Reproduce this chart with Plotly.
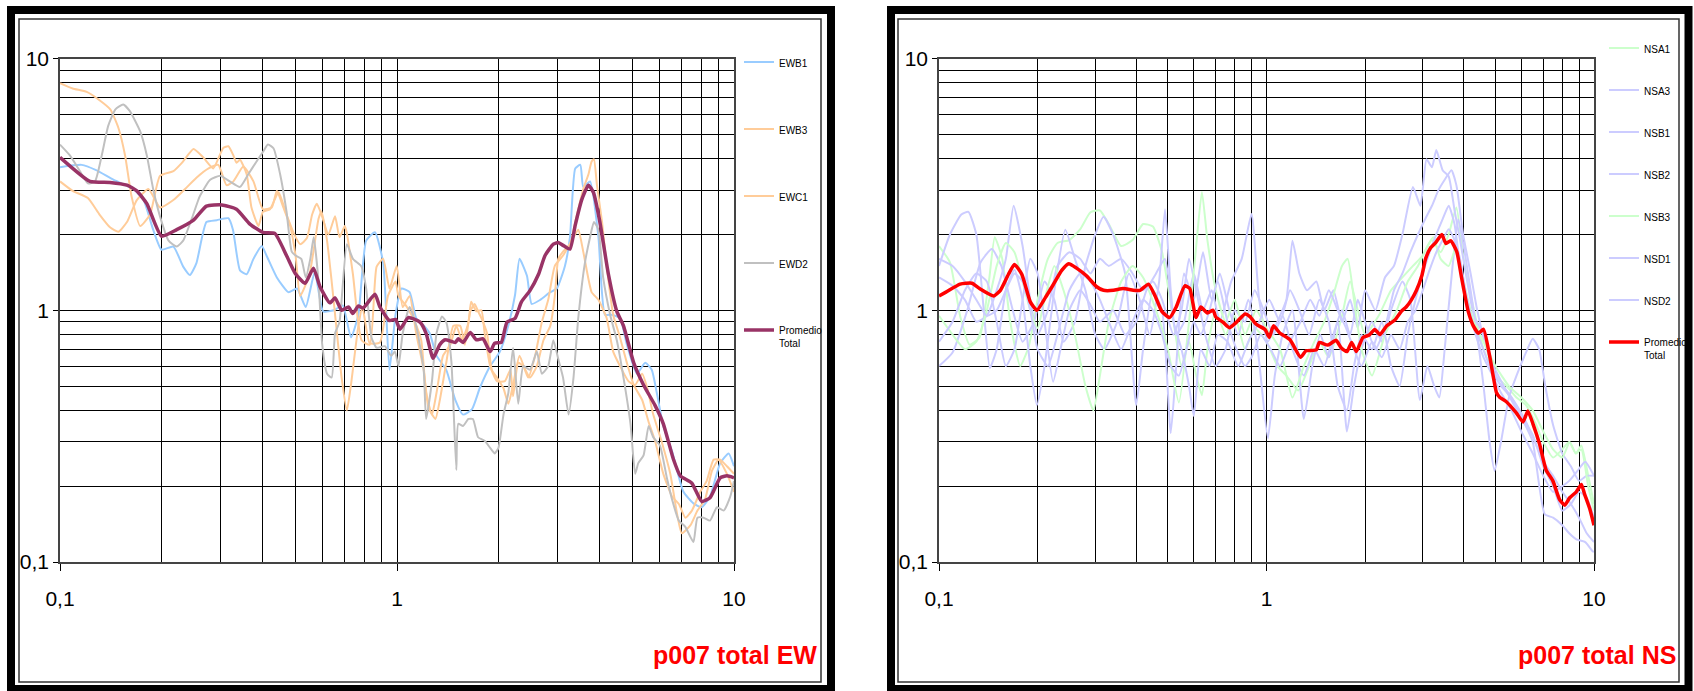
import plotly.graph_objects as go

W, H = 1694, 691

# ---------------- EW components: (frequency Hz, spectral ratio) ----------------
EWB1 = [(0.1, 3.7), (0.116, 3.78), (0.128, 3.6), (0.144, 3.3), (0.165, 3.03), (0.177, 2.74),
        (0.189, 2.09), (0.2, 1.74), (0.217, 1.79), (0.232, 1.49), (0.243, 1.38), (0.254, 1.54),
        (0.272, 2.24), (0.292, 2.28), (0.316, 2.32), (0.326, 2.09), (0.342, 1.44), (0.358, 1.39),
        (0.375, 1.6), (0.397, 1.8), (0.41, 1.65), (0.44, 1.35), (0.476, 1.18), (0.505, 1.22),
        (0.536, 1.03), (0.57, 1.42), (0.604, 0.99), (0.65, 1.0), (0.69, 1.045), (0.73, 0.78),
        (0.768, 0.96), (0.81, 1.89), (0.86, 2.04), (0.91, 1.54), (0.95, 0.58), (0.99, 0.96),
        (1.03, 1.22), (1.09, 1.18), (1.14, 0.93), (1.2, 0.87), (1.25, 0.81), (1.31, 0.66),
        (1.4, 0.58), (1.49, 0.44), (1.57, 0.385), (1.67, 0.405), (1.76, 0.49), (1.89, 0.6),
        (2.02, 0.685), (2.14, 0.87), (2.24, 1.15), (2.31, 1.6), (2.43, 1.37), (2.51, 1.06),
        (2.66, 1.1), (2.85, 1.18), (2.98, 1.22), (3.15, 1.5), (3.26, 1.95), (3.38, 3.66),
        (3.5, 3.78), (3.57, 3.09), (3.74, 3.25), (3.96, 1.95), (4.14, 0.96), (4.33, 0.96),
        (4.59, 0.93), (4.81, 0.73), (5.15, 0.56), (5.45, 0.618), (5.7, 0.58), (5.9, 0.47),
        (6.17, 0.347), (6.55, 0.275), (7.08, 0.19), (7.58, 0.171), (8.02, 0.165), (8.49, 0.182),
        (9.1, 0.247), (9.64, 0.27), (10.0, 0.24)]

EWB3 = [(0.1, 7.98), (0.109, 7.6), (0.12, 7.37), (0.131, 6.83), (0.141, 6.28), (0.149, 5.31),
        (0.156, 4.12), (0.163, 2.84), (0.173, 2.16), (0.185, 2.4), (0.198, 3.42), (0.217, 3.57),
        (0.23, 3.85), (0.249, 4.37), (0.266, 4.05), (0.285, 3.66), (0.305, 4.41), (0.316, 4.48),
        (0.327, 4.12), (0.334, 3.85), (0.342, 3.96), (0.358, 3.47), (0.37, 2.56), (0.388, 2.16),
        (0.4, 2.46), (0.42, 2.52), (0.445, 2.94), (0.47, 2.4), (0.494, 2.02), (0.516, 1.83),
        (0.54, 1.93), (0.56, 2.4), (0.578, 2.65), (0.597, 2.4), (0.626, 2.0), (0.655, 2.36),
        (0.675, 1.95), (0.7, 2.16), (0.71, 2.02), (0.74, 1.39), (0.785, 0.76), (0.83, 0.73),
        (0.87, 1.49), (0.91, 1.6), (0.95, 1.22), (0.998, 1.5), (1.04, 1.03), (1.09, 1.14),
        (1.14, 0.81), (1.2, 0.58), (1.24, 0.41), (1.3, 0.37), (1.34, 0.44), (1.4, 0.618),
        (1.47, 0.867), (1.54, 0.867), (1.59, 0.73), (1.65, 0.99), (1.7, 1.06), (1.74, 0.99),
        (1.78, 0.93), (1.85, 0.81), (1.91, 0.58), (1.98, 0.54), (2.07, 0.49), (2.14, 0.425),
        (2.21, 0.505), (2.31, 0.66), (2.45, 0.54), (2.57, 0.66), (2.69, 0.897), (2.81, 1.1),
        (2.94, 1.5), (3.11, 1.65), (3.3, 1.89), (3.45, 2.09), (3.57, 1.71), (3.78, 1.18),
        (3.96, 1.1), (4.19, 0.93), (4.38, 0.685), (4.59, 0.6), (4.86, 0.523), (5.09, 0.505),
        (5.34, 0.56), (5.53, 0.49), (5.76, 0.385), (6.09, 0.303), (6.47, 0.224), (6.78, 0.155),
        (7.0, 0.13), (7.43, 0.14), (7.79, 0.16), (8.2, 0.177), (8.6, 0.23), (9.0, 0.255),
        (9.53, 0.224), (10.0, 0.19)]

EWC1 = [(0.1, 3.25), (0.109, 2.98), (0.121, 2.79), (0.131, 2.4), (0.141, 2.13), (0.149, 2.05),
        (0.158, 2.24), (0.169, 2.74), (0.183, 3.03), (0.198, 2.56), (0.217, 2.74), (0.235, 3.03),
        (0.254, 3.36), (0.276, 3.66), (0.295, 3.78), (0.312, 3.14), (0.327, 3.25), (0.35, 3.72),
        (0.375, 3.25), (0.4, 2.52), (0.425, 2.56), (0.44, 2.98), (0.46, 2.56), (0.482, 2.16),
        (0.5, 1.65), (0.516, 1.14), (0.55, 1.39), (0.565, 1.71), (0.585, 2.31), (0.597, 2.47),
        (0.62, 1.89), (0.64, 1.3), (0.66, 0.87), (0.685, 0.54), (0.71, 0.4), (0.73, 0.505),
        (0.768, 0.867), (0.79, 1.03), (0.83, 0.74), (0.89, 0.745), (0.94, 1.14), (0.99, 1.3),
        (1.01, 1.14), (1.07, 1.03), (1.13, 0.897), (1.18, 0.76), (1.22, 0.47), (1.27, 0.385),
        (1.31, 0.47), (1.37, 0.66), (1.44, 0.73), (1.5, 0.867), (1.56, 0.76), (1.63, 0.897),
        (1.66, 1.08), (1.72, 0.99), (1.78, 1.0), (1.82, 0.81), (1.89, 0.6), (1.98, 0.523),
        (2.09, 0.523), (2.17, 0.58), (2.21, 0.455), (2.29, 0.618), (2.37, 0.6), (2.48, 0.54),
        (2.6, 0.6), (2.72, 0.76), (2.85, 0.867), (2.94, 1.14), (3.01, 1.6), (3.11, 1.71),
        (3.26, 1.83), (3.42, 2.4), (3.57, 3.03), (3.7, 3.47), (3.78, 3.9), (3.84, 3.98),
        (3.92, 3.14), (4.06, 2.24), (4.19, 1.5), (4.38, 0.96), (4.59, 0.78), (4.81, 0.618),
        (5.04, 0.505), (5.34, 0.44), (5.58, 0.36), (5.83, 0.303), (6.17, 0.224), (6.55, 0.182),
        (6.86, 0.17), (7.17, 0.15), (7.5, 0.16), (7.94, 0.19), (8.3, 0.21), (8.7, 0.255),
        (9.1, 0.255), (9.53, 0.24), (10.0, 0.224)]

EWD2 = [(0.1, 4.55), (0.107, 4.12), (0.115, 3.54), (0.121, 3.19), (0.127, 3.25), (0.133, 4.12),
        (0.139, 5.4), (0.146, 6.28), (0.154, 6.56), (0.161, 6.19), (0.173, 5.13), (0.181, 4.12),
        (0.189, 3.03), (0.198, 2.36), (0.21, 1.89), (0.222, 1.79), (0.232, 1.89), (0.246, 2.31),
        (0.26, 2.84), (0.279, 3.3), (0.299, 3.42), (0.319, 3.25), (0.342, 3.09), (0.362, 3.47),
        (0.383, 3.9), (0.4, 4.25), (0.414, 4.55), (0.43, 4.4), (0.45, 3.47), (0.47, 2.47),
        (0.487, 1.71), (0.5, 1.65), (0.52, 1.6), (0.536, 1.35), (0.553, 1.6), (0.566, 1.95),
        (0.585, 1.3), (0.6, 0.73), (0.62, 0.56), (0.64, 0.54), (0.655, 0.81), (0.675, 0.897),
        (0.71, 1.83), (0.74, 1.6), (0.785, 1.49), (0.81, 1.22), (0.84, 0.78), (0.87, 0.71),
        (0.92, 0.72), (0.96, 0.66), (0.986, 0.685), (1.01, 0.6), (1.04, 0.81), (1.09, 1.03),
        (1.14, 0.867), (1.2, 0.58), (1.22, 0.37), (1.27, 0.523), (1.31, 0.81), (1.36, 0.944),
        (1.4, 0.897), (1.45, 0.625), (1.5, 0.232), (1.52, 0.354), (1.57, 0.347), (1.63, 0.37),
        (1.68, 0.37), (1.74, 0.313), (1.82, 0.303), (1.89, 0.284), (1.95, 0.27), (2.0, 0.284),
        (2.07, 0.385), (2.14, 0.47), (2.21, 0.71), (2.29, 0.425), (2.37, 0.6), (2.48, 0.58),
        (2.6, 0.685), (2.69, 0.56), (2.81, 0.6), (2.91, 0.76), (3.01, 0.64), (3.11, 0.54),
        (3.23, 0.385), (3.34, 0.54), (3.45, 0.93), (3.61, 1.54), (3.74, 1.95), (3.84, 2.24),
        (3.96, 2.09), (4.09, 1.35), (4.29, 0.96), (4.49, 0.76), (4.7, 0.54), (4.93, 0.354),
        (5.09, 0.224), (5.2, 0.247), (5.39, 0.265), (5.58, 0.347), (5.76, 0.313), (6.03, 0.29),
        (6.32, 0.216), (6.55, 0.177), (6.86, 0.146), (7.17, 0.138), (7.58, 0.12), (7.79, 0.15),
        (8.12, 0.15), (8.49, 0.146), (8.9, 0.165), (9.32, 0.16), (9.75, 0.182), (10.0, 0.21)]

EW_MEAN = [(0.1, 4.05), (0.1227, 3.25), (0.1407, 3.22), (0.158, 3.14), (0.169, 2.98), (0.181, 2.65),
           (0.2, 1.97), (0.222, 2.09), (0.249, 2.28), (0.272, 2.59), (0.302, 2.62), (0.334, 2.52),
           (0.366, 2.2), (0.4, 2.04), (0.434, 2.02), (0.47, 1.65), (0.499, 1.4), (0.534, 1.28),
           (0.565, 1.47), (0.591, 1.24), (0.632, 1.07), (0.655, 1.12), (0.685, 1.0), (0.718, 1.03),
           (0.739, 0.97), (0.768, 1.04), (0.793, 1.02), (0.86, 1.157), (0.89, 1.03), (0.95, 0.91),
           (0.99, 0.92), (1.02, 0.84), (1.08, 0.935), (1.17, 0.897), (1.22, 0.81), (1.28, 0.644),
           (1.34, 0.73), (1.39, 0.763), (1.49, 0.745), (1.52, 0.77), (1.57, 0.745), (1.65, 0.816),
           (1.72, 0.763), (1.8, 0.77), (1.89, 0.685), (1.95, 0.74), (2.04, 0.745), (2.12, 0.897),
           (2.24, 0.928), (2.34, 1.08), (2.48, 1.197), (2.63, 1.39), (2.75, 1.65), (2.91, 1.83),
           (3.01, 1.86), (3.11, 1.81), (3.26, 1.75), (3.38, 2.18), (3.53, 2.74), (3.7, 3.14),
           (3.83, 2.93), (4.0, 2.24), (4.24, 1.39), (4.49, 0.99), (4.7, 0.867), (5.04, 0.618),
           (5.39, 0.505), (5.83, 0.419), (6.17, 0.354), (6.61, 0.256), (6.93, 0.22), (7.49, 0.206),
           (8.02, 0.174), (8.49, 0.18), (9.1, 0.216), (9.53, 0.22), (10.0, 0.216)]

# ---------------- NS components ----------------
NSA1 = [(0.1, 1.8), (0.108, 1.55), (0.116, 0.95), (0.124, 0.73), (0.133, 0.78), (0.142, 1.3),
        (0.148, 1.95), (0.156, 1.6), (0.165, 0.9), (0.177, 0.6), (0.188, 0.72), (0.2, 1.1),
        (0.215, 1.6), (0.23, 1.85), (0.25, 1.9), (0.27, 2.1), (0.29, 2.45), (0.31, 2.49),
        (0.33, 2.2), (0.36, 1.8), (0.39, 1.9), (0.42, 2.2), (0.45, 2.15), (0.48, 1.7),
        (0.52, 0.9), (0.55, 0.6), (0.58, 0.75), (0.61, 0.55), (0.635, 0.46), (0.66, 0.7),
        (0.7, 1.0), (0.75, 0.8), (0.8, 0.95), (0.86, 0.7), (0.92, 0.85), (1.0, 0.75),
        (1.08, 0.6), (1.15, 0.55), (1.25, 0.48), (1.35, 0.6), (1.45, 0.75), (1.55, 0.65),
        (1.7, 0.95), (1.8, 1.3), (1.9, 1.0), (2.0, 0.8), (2.2, 0.95), (2.4, 1.2), (2.6, 1.35),
        (2.8, 1.5), (3.0, 1.65), (3.2, 1.9), (3.4, 1.7), (3.6, 2.0), (3.8, 2.56), (4.0, 1.6),
        (4.3, 1.0), (4.6, 0.7), (5.0, 0.55), (5.4, 0.5), (5.8, 0.45), (6.2, 0.42), (6.6, 0.36),
        (7.0, 0.3), (7.5, 0.26), (8.0, 0.28), (8.4, 0.3), (8.8, 0.27), (9.15, 0.29), (9.6, 0.22),
        (10.0, 0.17)]

NSA3 = [(0.1, 1.5), (0.108, 2.0), (0.117, 2.4), (0.123, 2.46), (0.13, 2.0), (0.137, 1.0),
        (0.143, 0.59), (0.15, 0.7), (0.16, 1.2), (0.17, 1.45), (0.18, 1.1), (0.19, 0.6),
        (0.199, 0.42), (0.21, 0.6), (0.225, 1.2), (0.243, 2.09), (0.26, 1.6), (0.28, 1.2),
        (0.3, 0.8), (0.32, 0.7), (0.35, 0.9), (0.38, 1.4), (0.41, 1.1), (0.44, 0.8), (0.47, 1.3),
        (0.49, 2.52), (0.51, 1.2), (0.53, 0.8), (0.56, 0.9), (0.6, 1.4), (0.64, 1.0), (0.68, 1.2),
        (0.72, 0.9), (0.78, 1.3), (0.84, 1.6), (0.9, 2.41), (0.95, 1.1), (1.01, 0.75), (1.08, 0.9),
        (1.15, 1.1), (1.2, 1.89), (1.26, 1.4), (1.33, 1.2), (1.42, 1.3), (1.5, 1.0), (1.6, 1.2),
        (1.7, 0.9), (1.8, 1.1), (1.9, 0.85), (2.0, 1.2), (2.15, 1.0), (2.3, 1.35), (2.45, 1.5),
        (2.6, 2.0), (2.8, 3.09), (2.95, 2.6), (3.08, 3.98), (3.2, 3.7), (3.3, 4.33), (3.45, 3.6),
        (3.6, 3.4), (3.75, 2.5), (3.9, 1.9), (4.1, 1.3), (4.3, 0.95), (4.6, 0.8), (4.9, 0.6),
        (5.2, 0.5), (5.6, 0.45), (6.0, 0.38), (6.5, 0.32), (7.0, 0.24), (7.5, 0.2), (8.0, 0.16),
        (8.5, 0.17), (9.0, 0.19), (9.5, 0.18), (10.0, 0.15)]

NSB1 = [(0.1, 0.6), (0.11, 0.68), (0.122, 1.0), (0.134, 1.55), (0.145, 1.75), (0.155, 1.5),
        (0.168, 1.0), (0.18, 0.75), (0.195, 0.9), (0.21, 1.3), (0.225, 1.1), (0.24, 0.75),
        (0.26, 0.9), (0.28, 1.5), (0.3, 2.0), (0.318, 2.35), (0.34, 2.0), (0.37, 1.4), (0.4, 0.42),
        (0.42, 0.7), (0.45, 1.2), (0.48, 1.0), (0.51, 0.325), (0.53, 0.6), (0.56, 1.4), (0.6, 1.1),
        (0.64, 1.7), (0.68, 1.1), (0.72, 1.4), (0.77, 1.0), (0.82, 0.8), (0.88, 1.1), (0.94, 0.7),
        (1.01, 0.31), (1.06, 0.55), (1.12, 0.8), (1.2, 1.0), (1.3, 0.37), (1.38, 0.6), (1.46, 0.8),
        (1.55, 0.65), (1.65, 0.9), (1.76, 0.33), (1.85, 0.5), (1.95, 0.7), (2.1, 0.9), (2.25, 0.75),
        (2.4, 1.0), (2.6, 1.3), (2.75, 1.1), (2.94, 0.44), (3.1, 0.6), (3.25, 0.5), (3.37, 0.45),
        (3.5, 0.7), (3.7, 1.5), (3.85, 2.3), (4.0, 1.8), (4.2, 1.2), (4.4, 0.8), (4.6, 0.5),
        (4.8, 0.3), (4.97, 0.23), (5.2, 0.3), (5.5, 0.45), (5.8, 0.55), (6.2, 0.68), (6.5, 0.77),
        (6.8, 0.7), (7.1, 0.5), (7.5, 0.35), (8.0, 0.27), (8.5, 0.24), (9.0, 0.21), (9.5, 0.22),
        (10.0, 0.22)]

NSB2 = [(0.1, 1.35), (0.11, 1.25), (0.12, 1.1), (0.13, 0.9), (0.14, 0.95), (0.15, 1.2),
        (0.16, 1.6), (0.169, 2.6), (0.18, 1.8), (0.19, 1.1), (0.2, 0.8), (0.215, 1.0), (0.23, 1.5),
        (0.25, 1.7), (0.27, 1.6), (0.29, 1.4), (0.31, 1.6), (0.33, 1.5), (0.36, 1.6), (0.39, 1.4),
        (0.42, 1.2), (0.45, 1.3), (0.48, 1.1), (0.52, 0.8), (0.55, 1.0), (0.58, 1.6), (0.61, 1.2),
        (0.65, 0.8), (0.7, 0.6), (0.75, 0.7), (0.8, 1.0), (0.86, 0.9), (0.92, 1.2), (0.98, 1.0),
        (1.05, 0.8), (1.12, 0.95), (1.2, 0.7), (1.3, 0.55), (1.4, 0.7), (1.5, 0.6), (1.6, 0.8),
        (1.7, 1.0), (1.8, 0.8), (1.9, 1.1), (2.0, 0.9), (2.15, 0.7), (2.3, 0.85), (2.45, 1.2),
        (2.6, 1.4), (2.75, 1.7), (2.9, 2.0), (3.05, 2.3), (3.2, 2.6), (3.35, 3.0), (3.5, 3.3),
        (3.67, 3.6), (3.8, 3.14), (3.98, 2.02), (4.2, 1.4), (4.4, 1.0), (4.7, 0.7), (5.0, 0.58),
        (5.3, 0.5), (5.7, 0.42), (6.1, 0.36), (6.5, 0.3), (7.07, 0.155), (7.5, 0.15), (8.0, 0.14),
        (8.4, 0.13), (8.83, 0.123), (9.4, 0.12), (9.93, 0.11), (10.0, 0.11)]

NSB3 = [(0.1, 0.95), (0.11, 0.8), (0.12, 0.7), (0.13, 0.75), (0.14, 1.0), (0.15, 1.5),
        (0.16, 1.85), (0.17, 1.7), (0.18, 1.3), (0.19, 1.0), (0.2, 0.85), (0.21, 1.1),
        (0.225, 1.5), (0.24, 1.2), (0.26, 0.8), (0.28, 0.5), (0.296, 0.4), (0.31, 0.55),
        (0.33, 0.9), (0.36, 1.3), (0.39, 1.5), (0.42, 1.35), (0.46, 1.0), (0.5, 0.7), (0.54, 0.43),
        (0.58, 0.9), (0.61, 1.8), (0.635, 2.95), (0.66, 1.9), (0.7, 1.2), (0.75, 0.9), (0.8, 1.1),
        (0.86, 0.8), (0.93, 1.0), (1.0, 0.85), (1.1, 0.7), (1.2, 0.45), (1.3, 0.6), (1.4, 0.75),
        (1.5, 0.9), (1.6, 1.15), (1.7, 1.5), (1.77, 1.6), (1.85, 1.1), (1.95, 0.7), (2.1, 0.55),
        (2.3, 0.8), (2.5, 1.0), (2.7, 1.3), (2.9, 1.5), (3.1, 1.8), (3.23, 1.95), (3.4, 1.6),
        (3.6, 1.5), (3.8, 1.8), (4.0, 1.3), (4.3, 0.9), (4.6, 0.75), (5.0, 0.6), (5.5, 0.5),
        (6.0, 0.45), (6.5, 0.4), (7.0, 0.33), (7.5, 0.28), (8.0, 0.26), (8.43, 0.3), (8.8, 0.27),
        (9.15, 0.28), (9.6, 0.2), (10.0, 0.16)]

NSD1 = [(0.1, 0.75), (0.11, 0.9), (0.12, 1.2), (0.13, 1.4), (0.14, 1.3), (0.15, 0.9), (0.16, 0.6),
        (0.17, 0.7), (0.18, 1.1), (0.19, 1.6), (0.2, 1.4), (0.21, 0.9), (0.223, 0.52), (0.235, 0.7),
        (0.25, 1.0), (0.27, 1.2), (0.29, 1.05), (0.31, 0.9), (0.34, 1.0), (0.37, 0.8), (0.4, 0.9),
        (0.43, 1.2), (0.46, 1.4), (0.49, 1.6), (0.52, 0.9), (0.55, 0.7), (0.58, 0.5), (0.6, 0.38),
        (0.63, 0.7), (0.67, 0.6), (0.71, 0.8), (0.76, 0.75), (0.82, 0.6), (0.88, 0.75), (0.95, 0.9),
        (1.02, 1.1), (1.1, 0.9), (1.18, 1.2), (1.26, 1.0), (1.35, 0.8), (1.45, 1.1), (1.55, 0.9),
        (1.65, 0.5), (1.76, 0.4), (1.85, 0.6), (1.95, 0.8), (2.1, 0.7), (2.25, 0.9), (2.4, 0.6),
        (2.55, 0.5), (2.7, 0.8), (2.85, 1.1), (3.0, 1.4), (3.15, 1.7), (3.3, 2.0), (3.45, 2.3),
        (3.6, 2.6), (3.75, 2.2), (3.9, 1.5), (4.1, 1.1), (4.35, 0.8), (4.6, 0.65), (4.9, 0.55),
        (5.2, 0.47), (5.6, 0.4), (6.0, 0.33), (6.5, 0.27), (7.0, 0.22), (7.5, 0.19), (8.0, 0.2),
        (8.4, 0.21), (8.9, 0.23), (9.4, 0.25), (10.0, 0.22)]

NSD2 = [(0.1, 1.6), (0.11, 1.5), (0.12, 1.3), (0.13, 1.1), (0.14, 0.95), (0.15, 1.0), (0.16, 1.2),
        (0.17, 1.4), (0.18, 1.3), (0.19, 1.0), (0.2, 0.7), (0.215, 0.6), (0.23, 0.8), (0.25, 1.2),
        (0.27, 1.4), (0.29, 1.3), (0.31, 1.1), (0.33, 0.9), (0.36, 0.7), (0.39, 0.9), (0.42, 1.1),
        (0.45, 1.0), (0.48, 0.8), (0.51, 0.6), (0.54, 0.55), (0.57, 0.7), (0.6, 0.9), (0.63, 0.8),
        (0.67, 1.0), (0.71, 1.3), (0.76, 0.9), (0.81, 0.7), (0.86, 0.6), (0.9, 0.65), (0.96, 0.8),
        (1.03, 0.7), (1.1, 0.6), (1.18, 0.75), (1.27, 0.9), (1.36, 1.1), (1.45, 0.95), (1.55, 1.2),
        (1.65, 1.0), (1.75, 0.85), (1.85, 0.7), (1.95, 0.6), (2.1, 0.75), (2.25, 0.65), (2.4, 0.8),
        (2.55, 0.7), (2.7, 0.9), (2.85, 1.0), (3.0, 1.2), (3.15, 1.45), (3.3, 1.7), (3.45, 1.9),
        (3.6, 2.1), (3.75, 1.9), (3.9, 1.6), (4.05, 1.2), (4.25, 0.9), (4.5, 0.75), (4.8, 0.6),
        (5.1, 0.52), (5.4, 0.48), (5.8, 0.42), (6.2, 0.36), (6.6, 0.3), (7.0, 0.25), (7.5, 0.22),
        (8.0, 0.19), (8.5, 0.17), (9.0, 0.15), (9.5, 0.13), (10.0, 0.12)]

NS_MEAN = [(0.1, 1.14), (0.105, 1.18), (0.116, 1.27), (0.126, 1.28), (0.133, 1.22), (0.147, 1.14),
           (0.154, 1.2), (0.163, 1.39), (0.17, 1.52), (0.179, 1.39), (0.19, 1.08), (0.199, 1.0),
           (0.211, 1.12), (0.223, 1.26), (0.237, 1.44), (0.249, 1.53), (0.263, 1.47), (0.282, 1.37),
           (0.303, 1.24), (0.318, 1.2), (0.341, 1.2), (0.365, 1.22), (0.392, 1.2), (0.411, 1.2),
           (0.436, 1.27), (0.457, 1.14), (0.479, 0.99), (0.506, 0.935), (0.53, 1.03), (0.563, 1.25),
           (0.583, 1.22), (0.609, 0.935), (0.63, 1.03), (0.66, 0.976), (0.687, 1.0), (0.7, 0.94),
           (0.736, 0.897), (0.77, 0.853), (0.81, 0.897), (0.86, 0.967), (0.89, 0.944), (0.93, 0.88),
           (0.99, 0.839), (1.02, 0.78), (1.05, 0.867), (1.1, 0.81), (1.18, 0.763), (1.27, 0.65),
           (1.32, 0.69), (1.42, 0.696), (1.45, 0.745), (1.54, 0.727), (1.63, 0.76), (1.69, 0.71),
           (1.76, 0.685), (1.82, 0.745), (1.88, 0.685), (1.97, 0.78), (2.06, 0.797), (2.14, 0.839),
           (2.22, 0.8), (2.33, 0.867), (2.46, 0.912), (2.58, 0.99), (2.67, 1.03), (2.77, 1.1),
           (2.87, 1.2), (2.98, 1.37), (3.06, 1.6), (3.17, 1.77), (3.29, 1.86), (3.43, 2.0),
           (3.53, 1.84), (3.65, 1.89), (3.81, 1.71), (3.94, 1.35), (4.13, 0.99), (4.28, 0.867),
           (4.44, 0.81), (4.6, 0.84), (4.8, 0.66), (5.04, 0.47), (5.16, 0.45), (5.4, 0.433),
           (5.79, 0.391), (6.07, 0.36), (6.28, 0.398), (6.51, 0.354), (6.82, 0.294), (7.14, 0.232),
           (7.49, 0.21), (7.85, 0.177), (8.14, 0.168), (8.43, 0.18), (8.83, 0.19), (9.15, 0.203),
           (9.36, 0.186), (9.7, 0.163), (10.0, 0.14)]

MAJOR_TICKS = [0.1, 1, 10]
MAJOR_TEXT = ["0,1", "1", "10"]
MINOR_TICKS = [0.2, 0.3, 0.4, 0.5, 0.6, 0.7, 0.8, 0.9, 2, 3, 4, 5, 6, 7, 8, 9]

MEAN_LABEL = "Promedio\u00a0\u00a0\u00a0<br>Total"
SANS = "Liberation Sans, Arial, Helvetica, sans-serif"

fig = go.Figure()


def add_series(pts, name, color, width, axis_suffix, legend):
    freq = [p[0] for p in pts]
    amp = [p[1] for p in pts]
    fig.add_trace(go.Scatter(
        x=freq, y=amp, name=name, mode="lines",
        line=dict(color=color, width=width, shape="spline", smoothing=0.5),
        xaxis="x" + axis_suffix, yaxis="y" + axis_suffix,
        legend=legend, legendgroup=legend + name, hoverinfo="x+y+name",
    ))


add_series(EWB1, "EWB1", "#99CCFF", 2, "", "legend")
add_series(EWB3, "EWB3", "#FFCC99", 2, "", "legend")
add_series(EWC1, "EWC1", "#FFCC99", 2, "", "legend")
add_series(EWD2, "EWD2", "#C0C0C0", 2, "", "legend")
add_series(EW_MEAN, MEAN_LABEL, "#993366", 3.5, "", "legend")

add_series(NSA1, "NSA1", "#CCFFCC", 2, "2", "legend2")
add_series(NSA3, "NSA3", "#CCCCFF", 2, "2", "legend2")
add_series(NSB1, "NSB1", "#CCCCFF", 2, "2", "legend2")
add_series(NSB2, "NSB2", "#CCCCFF", 2, "2", "legend2")
add_series(NSB3, "NSB3", "#CCFFCC", 2, "2", "legend2")
add_series(NSD1, "NSD1", "#CCCCFF", 2, "2", "legend2")
add_series(NSD2, "NSD2", "#CCCCFF", 2, "2", "legend2")
add_series(NS_MEAN, MEAN_LABEL, "#FF0000", 3.5, "2", "legend2")


def px_x(x):
    return x / W


def px_y(y):
    return 1 - y / H


y_dom = [px_y(562), px_y(58.5)]


def log_axis(domain, anchor, is_x):
    return dict(
        type="log", range=[-1, 1], domain=domain, anchor=anchor, automargin=False,
        tickvals=MAJOR_TICKS, ticktext=MAJOR_TEXT,
        ticks="outside", ticklen=7 if is_x else 5, tickcolor="#000", tickwidth=1,
        tickfont=dict(family=SANS, size=21, color="#000"),
        ticklabelstandoff=10 if is_x else 0,
        showgrid=True, gridcolor="#000", gridwidth=1,
        minor=dict(tickvals=MINOR_TICKS, showgrid=True, gridcolor="#000", gridwidth=1, ticks=""),
        showline=True, linecolor="#444", linewidth=1.5, mirror=True,
        zeroline=False, fixedrange=True,
    )


shapes = []
for x0, x1 in ((11, 831), (891, 1688.5)):
    shapes.append(dict(type="rect", xref="paper", yref="paper",
                       x0=px_x(x0), x1=px_x(x1), y0=px_y(689), y1=px_y(10),
                       line=dict(color="#000", width=8), layer="above"))
for x0, x1 in ((19, 821), (898, 1679)):
    shapes.append(dict(type="rect", xref="paper", yref="paper",
                       x0=px_x(x0), x1=px_x(x1), y0=px_y(682), y1=px_y(19),
                       line=dict(color="#333", width=1.5), layer="above"))

legend_common = dict(
    font=dict(family=SANS, size=10, color="#000"),
    bgcolor="rgba(0,0,0,0)", borderwidth=0, yanchor="top", xanchor="left",
    valign="top", itemwidth=30, orientation="v", traceorder="grouped",
)

fig.update_layout(
    width=W, height=H, margin=dict(l=0, r=0, t=0, b=0, autoexpand=False),
    paper_bgcolor="#FFFFFF", plot_bgcolor="#FFFFFF",
    xaxis=log_axis([px_x(60), px_x(734)], "y", True),
    yaxis=log_axis(y_dom, "x", False),
    xaxis2=log_axis([px_x(939), px_x(1594)], "y2", True),
    yaxis2=log_axis(y_dom, "x2", False),
    legend=dict(x=px_x(739), y=px_y(49), tracegroupgap=48, **legend_common),
    legend2=dict(x=px_x(1604), y=px_y(35), tracegroupgap=23, **legend_common),
    shapes=shapes,
    annotations=[
        dict(text="<b>p007 total EW</b>", xref="paper", yref="paper",
             x=px_x(819), y=px_y(655), xanchor="right", yanchor="middle", showarrow=False,
             font=dict(family=SANS, size=25, color="#FF0000")),
        dict(text="<b>p007 total NS</b>", xref="paper", yref="paper",
             x=px_x(1678), y=px_y(655), xanchor="right", yanchor="middle", showarrow=False,
             font=dict(family=SANS, size=25, color="#FF0000")),
    ],
    showlegend=True,
)

fig.write_html("out.html")
